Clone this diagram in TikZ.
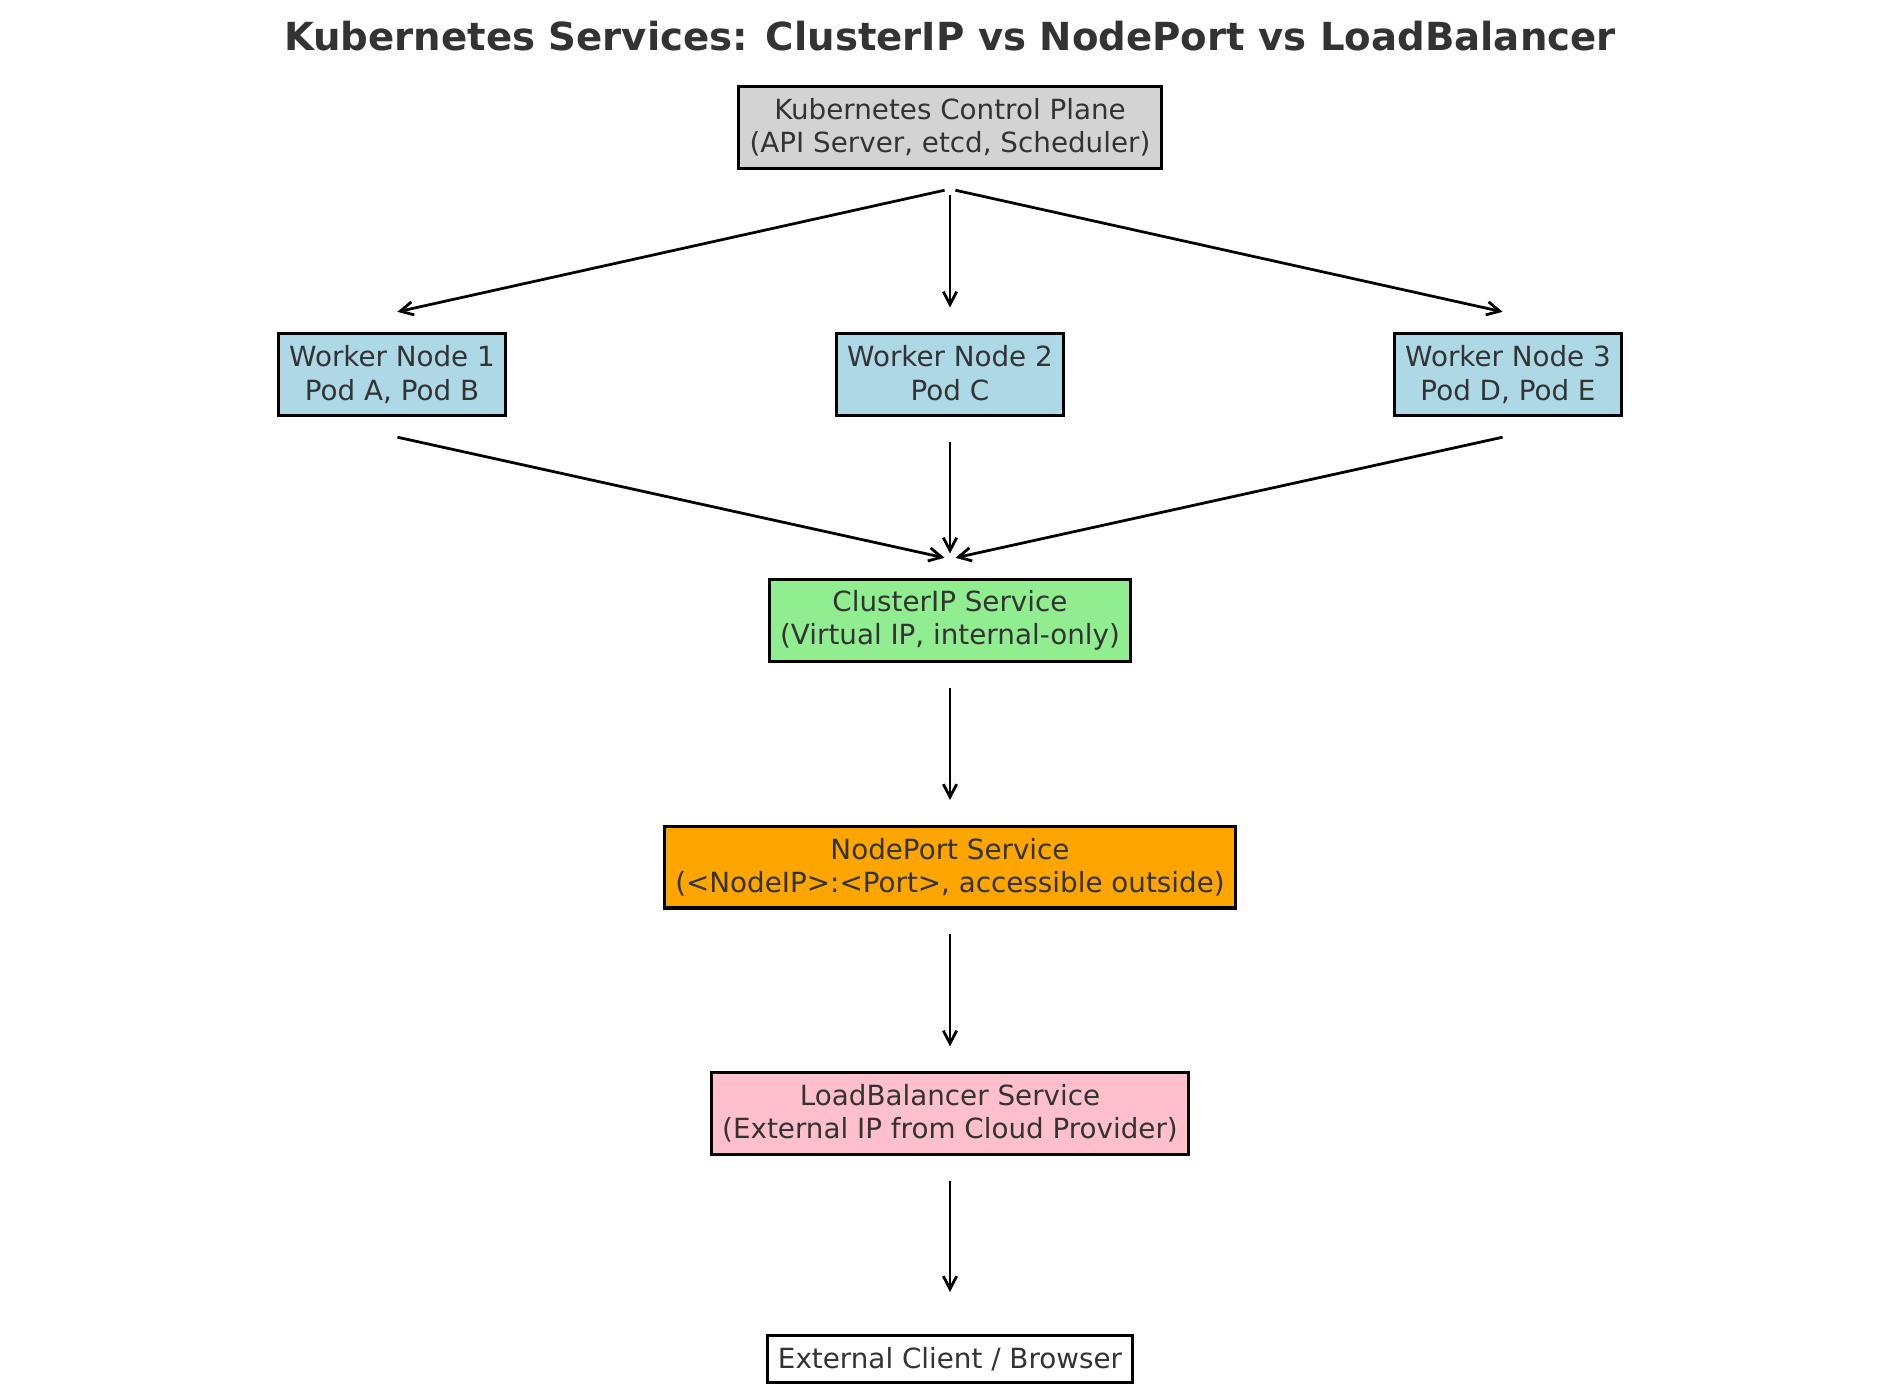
\documentclass[tikz,border=0pt]{standalone}
\usepackage{fontspec}
\setmainfont{DejaVu Sans}
\usetikzlibrary{calc,arrows.meta}
\definecolor{txtgray}{HTML}{333333}
\definecolor{cpgray}{HTML}{D3D3D3}
\definecolor{wblue}{HTML}{ADD8E6}
\definecolor{cipgreen}{HTML}{90EE90}
\definecolor{nporange}{HTML}{FFA500}
\definecolor{lbpink}{HTML}{FFC0CB}

\begin{document}
\begin{tikzpicture}[x=0.36pt, y=-0.36pt,
	box/.style={draw=black, line width=1.1pt, inner xsep=3.9pt, inner ysep=2pt, align=center, text=txtgray, font=\fontsize{10}{12}\selectfont, minimum height=29.5pt},
	flow/.style={-{Straight Barb[length=4.6pt,width=4.8pt]}, line width=1pt, shorten <=2pt, shorten >=2pt}]
			%%%%% START %%%%%
			
			\useasboundingbox (0,0) rectangle (1900,1394);
			
			\node[text=txtgray, font=\fontsize{13.92}{17}\selectfont\bfseries] (title) at (950,36) {Kubernetes Services: ClusterIP vs NodePort vs LoadBalancer};
			
			\node[box, fill=cpgray] (cp) at (950,127.5) {Kubernetes Control Plane\\(API Server, etcd, Scheduler)};
			
			\node[box, fill=wblue] (w1) at (392,374.5) {Worker Node 1\\Pod A, Pod B};
			\node[box, fill=wblue] (w2) at (950,374.5) {Worker Node 2\\Pod C\vphantom{,}};
			\node[box, fill=wblue] (w3) at (1508,374.5) {Worker Node 3\\Pod D, Pod E};
			
			\node[box, fill=cipgreen] (cip) at (950,620.5) {ClusterIP Service\\(Virtual IP, internal-only)};
			\node[box, fill=nporange] (np) at (950,867) {NodePort Service\\(<NodeIP>:<Port>, accessible outside)};
			\node[box, fill=lbpink] (lb) at (950,1113.5) {LoadBalancer Service\\(External IP from Cloud Provider)};
			\node[box, fill=white, minimum height=17pt] (ext) at (950,1359) {External Client / Browser};
			
			\coordinate (cp-out) at ($(cp)+(0,61.5)$);
			\coordinate (w1-in) at ($(w1)+(0,-61.5)$);
			\coordinate (w2-in) at ($(w2)+(0,-61.5)$);
			\coordinate (w3-in) at ($(w3)+(0,-61.5)$);
			\coordinate (w1-out) at ($(w1)+(0,61.5)$);
			\coordinate (w2-out) at ($(w2)+(0,61.5)$);
			\coordinate (w3-out) at ($(w3)+(0,61.5)$);
			\coordinate (cip-in) at ($(cip)+(0,-61.5)$);
			\coordinate (cip-out) at ($(cip)+(0,61.5)$);
			\coordinate (np-in) at ($(np)+(0,-61.5)$);
			\coordinate (np-out) at ($(np)+(0,61.5)$);
			\coordinate (lb-in) at ($(lb)+(0,-61.5)$);
			\coordinate (lb-out) at ($(lb)+(0,61.5)$);
			\coordinate (ext-in) at ($(ext)+(0,-61.5)$);
			
			\draw[flow] (cp-out) -- (w1-in);
			\draw[flow] (cp-out) -- (w2-in);
			\draw[flow] (cp-out) -- (w3-in);
			
			\draw[flow] (w1-out) -- (cip-in);
			\draw[flow] (w2-out) -- (cip-in);
			\draw[flow] (w3-out) -- (cip-in);
			
			\draw[flow] (cip-out) -- (np-in);
			\draw[flow] (np-out) -- (lb-in);
			\draw[flow] (lb-out) -- (ext-in);
			
			%%%%% END %%%%%
\end{tikzpicture}
\end{document}
